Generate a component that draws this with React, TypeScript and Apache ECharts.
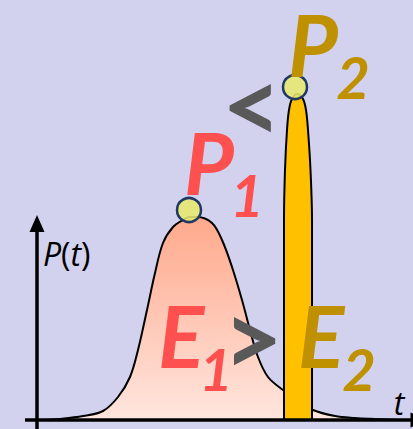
import React, { useEffect, useRef } from 'react';
import * as echarts from 'echarts';

// Broad pulse 1 (time t, power P)
const pulse1T = [45, 60, 83, 103, 118, 130, 138, 147, 155, 163, 173, 183, 190, 197, 212, 222, 232, 242, 250, 258, 268, 283, 298, 313, 335, 355, 375, 400];
const pulse1P = [0, 1, 4, 9, 23, 43, 70, 110, 147, 177, 193, 200, 203, 203, 197, 180, 153, 120, 90, 63, 43, 30, 20, 10, 4, 2, 1, 0];

// Narrow pulse 2
const pulse2T = [284, 284, 285, 287, 289, 292, 297.5, 303, 306, 308, 310.5, 312, 312];
const pulse2P = [0, 200, 250, 290, 310, 321, 326, 321, 310, 290, 250, 200, 0];

// Peak markers
const peakT = [189, 295];
const peakP = [210, 333];

// Axis extents
const tMin = 0;
const tMax = 423;
const pMin = -9;
const pMax = 420;
const yAxisT = 37;
const yAxisTop = 196.5;
const xAxisStart = 25;
const xAxisEnd = 419;

const App: React.FC = () => {
  const ref = useRef<HTMLDivElement>(null);
  useEffect(() => {
    if (!ref.current) return;
    const chart = echarts.init(ref.current, null, { renderer: 'svg' });
    const p1 = pulse1T.map((t, i) => [t, pulse1P[i]]);
    const p2 = pulse2T.map((t, i) => [t, pulse2P[i]]);
    const peaks = peakT.map((t, i) => [t, peakP[i]]);
    const red = '#ff5050';
    const gold = '#bf9000';
    const gray = '#595959';
    const big = 'italic bold 86px Lato';
    const sub = 'italic bold 58px Lato';
    const cmp = 'bold 104px Lato';
    const txt = (x: number, y: number, text: string, font: string, fill: string) => ({
      type: 'text',
      x,
      y,
      z: 100,
      style: { text, font, fill, textAlign: 'center', textVerticalAlign: 'middle' },
    });
    chart.setOption({
      animation: false,
      backgroundColor: '#d2d2ef',
      grid: { left: 0, top: 0, right: 0, bottom: 0 },
      xAxis: { type: 'value', min: tMin, max: tMax, show: false },
      yAxis: { type: 'value', min: pMin, max: pMax, show: false },
      series: [
        {
          type: 'line',
          data: p1,
          smooth: 0.35,
          showSymbol: false,
          z: 2,
          lineStyle: { color: '#000', width: 2 },
          areaStyle: {
            opacity: 1,
            color: new echarts.graphic.LinearGradient(0, 0, 0, 1, [
              { offset: 0, color: '#ffa98c' },
              { offset: 1, color: '#ffe6de' },
            ]),
          },
        },
        {
          type: 'line',
          data: p2,
          smooth: 0.35,
          showSymbol: false,
          z: 3,
          lineStyle: { color: '#000', width: 2 },
          areaStyle: { opacity: 1, color: '#ffc000' },
        },
        {
          type: 'scatter',
          data: peaks,
          z: 4,
          symbol: 'circle',
          symbolSize: 24,
          itemStyle: { color: 'rgba(232,232,112,0.88)', borderColor: '#1f3864', borderWidth: 2.5, opacity: 1 },
        },
        {
          type: 'line',
          data: [[yAxisT, pMin]],
          showSymbol: false,
          z: 5,
          lineStyle: { width: 0 },
          markLine: {
            silent: true,
            animation: false,
            symbol: ['none', 'triangle'],
            symbolSize: [15, 17],
            label: { show: false },
            emphasis: { disabled: true },
            lineStyle: { color: '#000', width: 3.5, type: 'solid' },
            data: [
              [{ coord: [yAxisT, pMin] }, { coord: [yAxisT, yAxisTop] }],
              [{ coord: [xAxisStart, 0] }, { coord: [xAxisEnd, 0] }],
            ],
          },
        },
      ],
      graphic: [
        txt(209, 161, 'P', big, red),
        txt(247, 194, '1', sub, red),
        txt(313, 43, 'P', big, gold),
        txt(353, 76, '2', sub, gold),
        txt(252, 102, '<', cmp, gray),
        txt(181, 334, 'E', big, red),
        txt(216, 368, '1', sub, red),
        txt(253, 335, '>', cmp, gray),
        txt(321, 334, 'E', big, gold),
        txt(359, 368, '2', sub, gold),
        {
          type: 'text',
          x: 399,
          y: 402,
          z: 100,
          style: { text: 't', font: 'italic 32px "Open Sans"', fill: '#000', textAlign: 'center', textVerticalAlign: 'middle' },
        },
        {
          type: 'text',
          x: 43,
          y: 253,
          z: 100,
          style: {
            text: '{i|P}({i|t})',
            font: '32px "Open Sans"',
            fill: '#000',
            textAlign: 'left',
            textVerticalAlign: 'middle',
            rich: { i: { font: 'italic 32px "Open Sans"', fill: '#000' } },
          },
        },
      ],
    });
    return () => chart.dispose();
  }, []);
  return <div ref={ref} style={{ position: 'fixed', left: 0, top: 0, width: 423, height: 429 }} />;
};

export default App;
